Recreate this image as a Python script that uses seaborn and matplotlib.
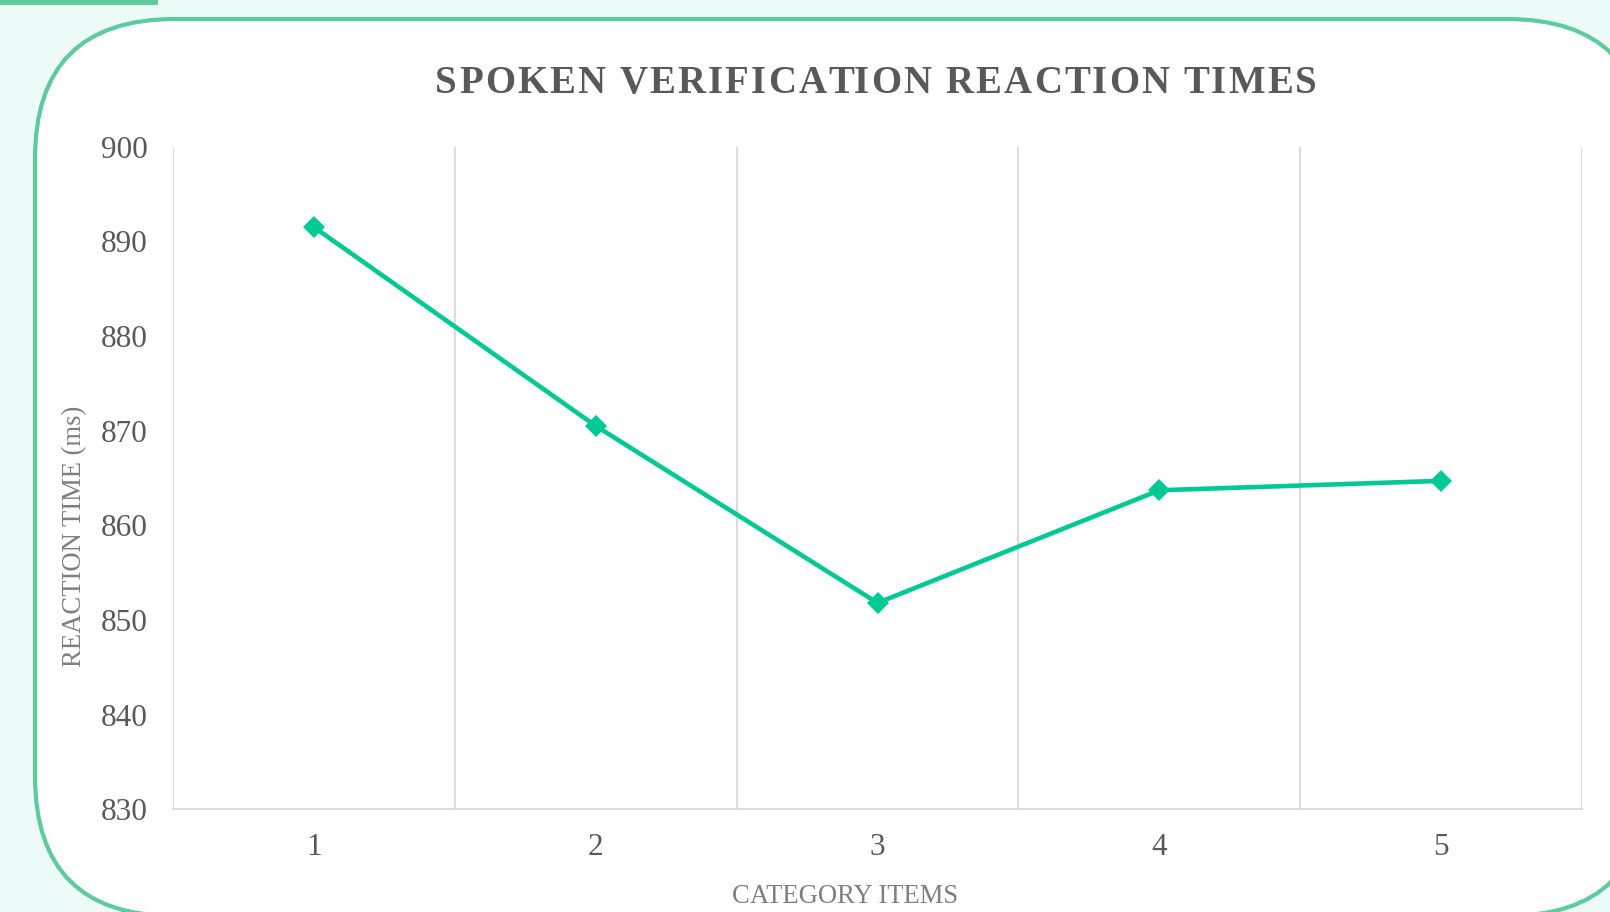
import numpy as np
import pandas as pd
import matplotlib
matplotlib.use("Agg")
import matplotlib.pyplot as plt
import seaborn as sns
from matplotlib.patches import FancyBboxPatch, Rectangle

# ---- data ----
categories = [1, 2, 3, 4, 5]
reaction_times = [891.5, 870.5, 851.8, 863.7, 864.7]
y_ticks = [830, 840, 850, 860, 870, 880, 890, 900]
title_text = "SPOKEN VERIFICATION REACTION TIMES"
x_label = "CATEGORY ITEMS"
y_label = "REACTION TIME (ms)"

sns.set_theme(style="white")
plt.rcParams["font.family"] = ["Liberation Serif", "DejaVu Serif"]

W, H, DPI = 16.1, 9.1205, 100
HP = 912
fig = plt.figure(figsize=(W, H), dpi=DPI, facecolor="#ECFBF7")

GREEN_BORDER = "#5DCB9B"
LINE_GREEN = "#00C994"
GRID = "#D9D9D9"
TXT = "#595959"
LBL = "#7F7F7F"

def px(x, y):
    """figure pixel (from top-left) -> inches (from bottom-left)"""
    return x / DPI, (HP - y) / DPI

# rounded card
x0, y_top = px(35, 19)
x1, y_bot = px(1647, 916)
card = FancyBboxPatch((x0, y_bot), x1 - x0, y_top - y_bot,
                      boxstyle="round,pad=0,rounding_size=1.4",
                      transform=fig.dpi_scale_trans, facecolor="white",
                      edgecolor=GREEN_BORDER, linewidth=3.0, zorder=-1)
fig.patches.append(card)
# small top-left bar
bx, by = px(0, 5)
fig.patches.append(Rectangle((bx, by), 1.58, 0.1, transform=fig.dpi_scale_trans,
                             facecolor=GREEN_BORDER, edgecolor="none", zorder=-1))

# axes
L, R, T, B = 173, 1582, 146.7, 809.3
ax = fig.add_axes([L / 1610, (HP - B) / HP, (R - L) / 1610, (B - T) / HP])
ax.set_facecolor("none")

df = pd.DataFrame({"category": categories, "rt": reaction_times})
sns.lineplot(data=df, x="category", y="rt", ax=ax, color=LINE_GREEN,
             linewidth=3.3, marker="D", markersize=11, markeredgewidth=0)

ax.set_xlim(0.5, 5.5)
ax.set_ylim(830, 900)
ax.set_yticks(y_ticks)
ax.set_xticks(categories)
ax.set_xticks(np.arange(0.5, 6.0, 1.0), minor=True)
ax.grid(False)
ax.grid(which="minor", axis="x", color=GRID, linewidth=1.3)
ax.tick_params(which="both", length=0)
ax.tick_params(axis="y", pad=18.5, labelsize=22.5, labelcolor=TXT)
ax.tick_params(axis="x", pad=17, labelsize=22.5, labelcolor=TXT)
for s in ["left", "top", "right"]:
    ax.spines[s].set_visible(False)
ax.spines["bottom"].set_color(GRID)
ax.spines["bottom"].set_linewidth(1.3)

ax.set_xlabel(x_label, fontsize=19.2, color=LBL)
ax.set_ylabel(y_label, fontsize=19.2, color=LBL)
ax.xaxis.set_label_coords((845 - L) / (R - L), (B - 896) / (B - T))
ax.xaxis.label.set_verticalalignment("center")
ax.yaxis.set_label_coords((75 - L) / (R - L), (B - 536) / (B - T))
ax.yaxis.label.set_verticalalignment("center")

# title with letter spacing
renderer = fig.canvas.get_renderer()
tfont = dict(fontsize=28, fontweight="bold", color=TXT)
def width_px(s):
    t = fig.text(0, 0, s, **tfont)
    w = t.get_window_extent(renderer).width
    t.remove()
    return w
spacing = 2.2
wX = width_px("X")
positions = []
for i in range(len(title_text)):
    if i == 0:
        positions.append(0.0)
    else:
        positions.append(width_px(title_text[:i] + "X") - wX + i * spacing)
total = width_px(title_text) + (len(title_text) - 1) * spacing
start = 876 - total / 2
for ch, p in zip(title_text, positions):
    if ch == " ":
        continue
    fig.text((start + p) / 1610, (HP - 83) / HP, ch, ha="left", va="center", **tfont)

fig.savefig("out.png", dpi=DPI, facecolor=fig.get_facecolor())
